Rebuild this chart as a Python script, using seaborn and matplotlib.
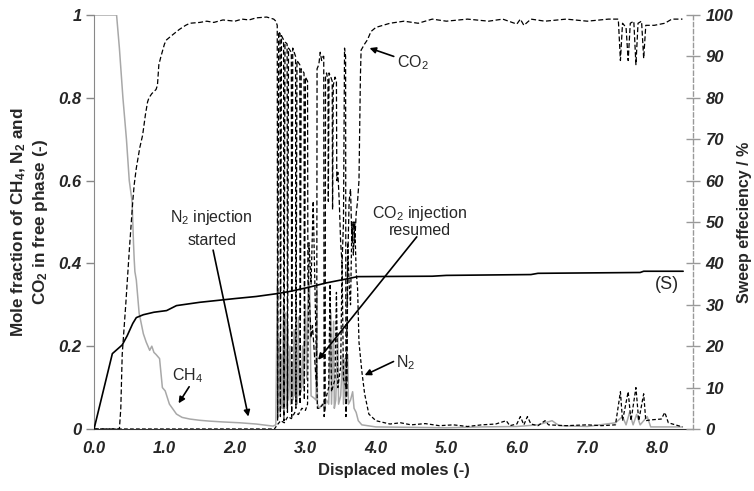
import matplotlib
matplotlib.use("Agg")
import matplotlib.pyplot as plt
import seaborn as sns
import pandas as pd

# ---- mole fractions in the free phase (left axis) ----
ch4_x = [0.00, 0.32, 0.36, 0.41, 0.46, 0.50, 0.54, 0.56, 0.57, 0.58, 0.60, 0.64, 0.70, 0.74, 0.79,
         0.82, 0.85, 0.88, 0.93, 0.97, 1.01, 1.07, 1.17, 1.25, 1.36, 1.50, 1.64, 1.83, 2.07, 2.30,
         2.54, 2.58, 2.60, 2.61, 2.63, 2.64, 2.66, 2.67, 2.69, 2.70, 2.72, 2.73, 2.75, 2.76, 2.78,
         2.79, 2.81, 2.82, 2.84, 2.85, 2.87, 2.88, 2.90, 2.91, 2.93, 2.94, 2.96, 2.97, 3.00, 3.02,
         3.04, 3.06, 3.08, 3.12, 3.15, 3.16, 3.17, 3.20, 3.24, 3.27, 3.30, 3.33, 3.36, 3.37, 3.40,
         3.41, 3.43, 3.46, 3.47, 3.50, 3.53, 3.54, 3.56, 3.57, 3.60, 3.61, 3.64, 3.67, 3.69, 3.72,
         3.75, 3.80, 4.00, 4.50, 5.00, 5.50, 6.00, 6.30, 6.50, 6.60, 7.00, 7.40, 7.50, 7.55, 7.60,
         7.65, 7.70, 7.75, 7.85, 7.90, 8.35]
ch4_y = [1.00, 1.00, 0.92, 0.80, 0.70, 0.60, 0.55, 0.45, 0.41, 0.38, 0.36, 0.28, 0.23, 0.21, 0.19,
         0.20, 0.185, 0.18, 0.17, 0.10, 0.092, 0.06, 0.036, 0.028, 0.024, 0.021, 0.019, 0.017, 0.015, 0.012,
         0.007, 0.010, 0.35, 0.03, 0.22, 0.04, 0.18, 0.05, 0.30, 0.06, 0.28, 0.05, 0.25, 0.07, 0.20,
         0.06, 0.15, 0.07, 0.24, 0.08, 0.12, 0.06, 0.27, 0.08, 0.14, 0.09, 0.20, 0.10, 0.30, 0.12,
         0.36, 0.34, 0.08, 0.075, 0.07, 0.34, 0.06, 0.05, 0.06, 0.05, 0.07, 0.06, 0.28, 0.06, 0.26,
         0.05, 0.07, 0.23, 0.06, 0.08, 0.18, 0.06, 0.17, 0.07, 0.18, 0.06, 0.07, 0.09, 0.05, 0.04,
         0.02, 0.010, 0.005, 0.004, 0.003, 0.005, 0.006, 0.010, 0.020, 0.008, 0.006, 0.015, 0.030, 0.010, 0.040,
         0.010, 0.035, 0.010, 0.030, 0.005, 0.005]

co2_x = [0.00, 0.36, 0.38, 0.40, 0.45, 0.50, 0.55, 0.57, 0.60, 0.65, 0.69, 0.73, 0.76, 0.78, 0.82,
         0.88, 0.90, 0.92, 0.95, 1.00, 1.03, 1.10, 1.21, 1.30, 1.36, 1.50, 1.60, 1.70, 1.83, 2.00,
         2.10, 2.20, 2.30, 2.45, 2.55, 2.58,
         2.600, 2.605, 2.620, 2.640, 2.645, 2.660, 2.690, 2.695, 2.710, 2.740, 2.745, 2.760,
         2.800, 2.805, 2.820, 2.860, 2.865, 2.880, 2.920, 2.925, 2.940, 2.980, 2.985, 3.000,
         3.030, 3.035, 3.060, 3.080, 3.100, 3.120, 3.150, 3.160, 3.165, 3.190, 3.210, 3.230,
         3.250, 3.260, 3.265, 3.280, 3.285, 3.300, 3.320, 3.325, 3.335, 3.360, 3.380, 3.385,
         3.395, 3.420, 3.440, 3.445, 3.460, 3.480, 3.500, 3.520, 3.540, 3.555, 3.570, 3.575,
         3.590, 3.600, 3.620, 3.640, 3.660, 3.680, 3.700, 3.720, 3.740, 3.760, 3.780, 3.790,
         3.840, 3.880, 3.930, 4.00,
         4.20, 4.40, 4.60, 4.80, 5.00, 5.30, 5.60, 5.80, 6.00, 6.05, 6.10, 6.20, 6.40, 6.70, 7.00,
         7.30, 7.44, 7.47, 7.50, 7.55, 7.58, 7.61, 7.66, 7.69, 7.72, 7.77, 7.80, 7.83, 7.95, 8.10,
         8.20, 8.35]
co2_y = [0.00, 0.00, 0.05, 0.18, 0.30, 0.43, 0.55, 0.59, 0.63, 0.68, 0.71, 0.76, 0.79, 0.80, 0.81,
         0.82, 0.83, 0.88, 0.90, 0.93, 0.94, 0.95, 0.965, 0.975, 0.98, 0.982, 0.985, 0.982, 0.988, 0.985,
         0.99, 0.988, 0.993, 0.995, 0.99, 0.985,
         0.975, 0.02, 0.96, 0.955, 0.03, 0.95, 0.94, 0.02, 0.935, 0.93, 0.04, 0.92,
         0.91, 0.03, 0.92, 0.90, 0.05, 0.89, 0.88, 0.06, 0.87, 0.86, 0.07, 0.85,
         0.84, 0.36, 0.30, 0.22, 0.25, 0.20, 0.12, 0.10, 0.87, 0.88, 0.91, 0.89,
         0.90, 0.90, 0.03, 0.05, 0.85, 0.86, 0.84, 0.55, 0.86, 0.85, 0.84, 0.53,
         0.83, 0.85, 0.84, 0.60, 0.62, 0.55, 0.45, 0.40, 0.50, 0.92, 0.90, 0.03,
         0.10, 0.40, 0.55, 0.58, 0.45, 0.50, 0.45, 0.52, 0.55, 0.60, 0.85, 0.915,
         0.93, 0.94, 0.96, 0.97,
         0.98, 0.985, 0.98, 0.99, 0.985, 0.99, 0.985, 0.99, 0.978, 0.99, 0.975, 0.99, 0.985, 0.99, 0.985,
         0.99, 0.99, 0.89, 0.98, 0.97, 0.89, 0.98, 0.985, 0.88, 0.98, 0.985, 0.895, 0.975, 0.975, 0.98,
         0.99, 0.99]

n2_x = [0.00, 2.56, 2.60, 2.65, 2.70, 2.75, 2.80, 2.85, 2.90, 2.95, 3.00, 3.03, 3.05, 3.08, 3.11,
        3.14, 3.17, 3.20, 3.25, 3.30, 3.33, 3.35, 3.37, 3.42, 3.44, 3.46, 3.50, 3.52, 3.54, 3.58,
        3.60, 3.62, 3.64, 3.66, 3.68, 3.70, 3.72, 3.74, 3.76, 3.80, 3.84, 3.90, 4.00, 4.20, 4.35,
        4.50, 4.70, 4.90, 5.10, 5.30, 5.50, 5.70, 5.85, 5.90, 6.00, 6.05, 6.10, 6.15, 6.20, 6.30,
        6.40, 6.45, 6.70, 7.00, 7.20, 7.40, 7.47, 7.50, 7.58, 7.62, 7.69, 7.73, 7.80, 7.83, 7.90,
        8.05, 8.10, 8.15, 8.25, 8.35]
n2_y = [0.00, 0.00, 0.010, 0.020, 0.015, 0.030, 0.025, 0.040, 0.035, 0.050, 0.045, 0.060, 0.45, 0.35, 0.55,
        0.30, 0.05, 0.05, 0.06, 0.08, 0.10, 0.35, 0.09, 0.12, 0.33, 0.10, 0.15, 0.40, 0.12, 0.10,
        0.45, 0.35, 0.30, 0.50, 0.42, 0.50, 0.38, 0.34, 0.21, 0.14, 0.085, 0.036, 0.020, 0.012, 0.015,
        0.010, 0.013, 0.008, 0.010, 0.006, 0.010, 0.012, 0.020, 0.008, 0.012, 0.030, 0.010, 0.030, 0.012, 0.008,
        0.020, 0.010, 0.008, 0.010, 0.008, 0.010, 0.09, 0.020, 0.09, 0.020, 0.10, 0.020, 0.085, 0.020, 0.022,
        0.024, 0.040, 0.015, 0.010, 0.005]

# ---- sweep efficiency (right axis, %) ----
sweep_x = [0.00, 0.26, 0.40, 0.47, 0.55, 0.60, 0.70, 0.85, 1.03, 1.17, 1.50, 2.00, 2.30, 2.60, 2.80,
           3.04, 3.30, 3.60, 3.74, 4.80, 5.00, 6.20, 6.30, 7.75, 7.80, 8.36]
sweep_y = [0.0, 18.2, 20.3, 22.5, 25.5, 26.9, 27.6, 28.2, 28.6, 29.8, 30.6, 31.5, 32.0, 32.7, 33.3,
           34.2, 35.3, 36.3, 36.8, 36.9, 37.1, 37.3, 37.6, 37.8, 38.1, 38.1]

# ---- axis ticks ----
x_ticks = [0, 1, 2, 3, 4, 5, 6, 7, 8]
x_tick_labels = ["0.0", "1.0", "2.0", "3.0", "4.0", "5.0", "6.0", "7.0", "8.0"]
left_ticks = [0, 0.2, 0.4, 0.6, 0.8, 1.0]
left_tick_labels = ["0", "0.2", "0.4", "0.6", "0.8", "1"]
right_ticks = [0, 10, 20, 30, 40, 50, 60, 70, 80, 90, 100]
right_tick_labels = [str(v) for v in right_ticks]

sns.set_style("white")
plt.rcParams["font.family"] = ["Liberation Sans", "DejaVu Sans"]
plt.rcParams["mathtext.default"] = "regular"

fig = plt.figure(figsize=(7.54, 4.91), dpi=100)
ax = fig.add_axes([0.1247, 0.1263, 0.7944, 0.8432])
ax2 = ax.twinx()

ch4 = pd.DataFrame({"x": ch4_x, "y": ch4_y})
co2 = pd.DataFrame({"x": co2_x, "y": co2_y})
n2 = pd.DataFrame({"x": n2_x, "y": n2_y})
sweep = pd.DataFrame({"x": sweep_x, "y": sweep_y})

sns.lineplot(data=ch4, x="x", y="y", ax=ax, estimator=None, sort=False,
             color="#a8a8a8", linewidth=1.1)
sns.lineplot(data=n2, x="x", y="y", ax=ax, estimator=None, sort=False,
             color="black", linewidth=0.9, linestyle=(0, (3, 1.8)))
sns.lineplot(data=co2, x="x", y="y", ax=ax, estimator=None, sort=False,
             color="black", linewidth=0.9, linestyle=(0, (4, 2)))
sns.lineplot(data=sweep, x="x", y="y", ax=ax2, estimator=None, sort=False,
             color="black", linewidth=1.2)

ax.set_xlim(0, 8.5)
ax.set_ylim(0, 1)
ax2.set_ylim(0, 100)

tick_font = dict(fontsize=12, fontweight="bold", fontstyle="italic")
ax.set_xticks(x_ticks)
ax.set_xticklabels(x_tick_labels, **tick_font)
ax.set_yticks(left_ticks)
ax.set_yticklabels(left_tick_labels, **tick_font)
ax2.set_yticks(right_ticks)
ax2.set_yticklabels(right_tick_labels, **tick_font)

ax.tick_params(axis="x", direction="out", length=5, width=1, color="#333333", pad=4)
ax.tick_params(axis="y", direction="out", length=6, width=1, color="#888888", pad=3)
ax2.tick_params(axis="y", direction="inout", length=10, width=1, color="#999999", pad=4)

for a in (ax, ax2):
    a.spines["top"].set_visible(False)
ax.spines["right"].set_visible(False)
ax2.spines["left"].set_visible(False)
ax2.spines["bottom"].set_visible(False)
ax.spines["left"].set_color("#888888")
ax.spines["bottom"].set_color("#333333")
ax2.spines["right"].set_color("#999999")
ax2.spines["right"].set_linestyle((0, (3, 2)))
ax2.spines["right"].set_linewidth(1.0)

ax.set_xlabel("Displaced moles (-)", fontsize=12, fontweight="bold", labelpad=5)
ax.set_ylabel("Mole fraction of CH$_4$, N$_2$ and\nCO$_2$ in free phase (-)",
              fontsize=12.3, fontweight="bold", labelpad=6)
ax2.set_ylabel("Sweep effeciency / %", fontsize=11.5, fontweight="bold", labelpad=3)

arrow = dict(arrowstyle="-|>", color="black", lw=1.2, mutation_scale=9,
             shrinkA=0, shrinkB=0)
note_font = dict(fontsize=11.5, ha="center", va="center")

ax.annotate("CO$_2$", xy=(3.91, 0.92), xytext=(4.30, 0.884), arrowprops=arrow,
            fontsize=11.5, ha="left", va="center")
ax.annotate("", xy=(1.20, 0.062), xytext=(1.35, 0.102), arrowprops=arrow)
ax.text(1.33, 0.13, "CH$_4$", **note_font)
ax.annotate("", xy=(2.19, 0.030), xytext=(1.69, 0.432), arrowprops=arrow)
ax.text(1.67, 0.512, "N$_2$ injection", **note_font)
ax.text(1.67, 0.455, "started", **note_font)
ax.annotate("", xy=(3.18, 0.167), xytext=(4.58, 0.464), arrowprops=arrow)
ax.text(4.62, 0.52, "CO$_2$ injection", **note_font)
ax.text(4.62, 0.48, "resumed", **note_font)
ax.annotate("", xy=(3.84, 0.13), xytext=(4.25, 0.163), arrowprops=arrow)
ax.text(4.42, 0.16, "N$_2$", **note_font)
ax.text(8.13, 0.35, "(S)", fontsize=13, ha="center", va="center")

fig.savefig("out.png", dpi=100)
